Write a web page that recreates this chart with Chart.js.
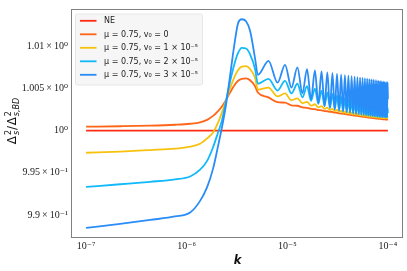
<!DOCTYPE html>
<html>
<head>
<meta charset="utf-8">
<script src="https://cdn.jsdelivr.net/npm/chart.js@4.4.0/dist/chart.umd.min.js"></script>
<style>
  html, body { margin: 0; padding: 0; background: #fff; }
  #wrap { width: 407px; height: 271px; }
</style>
</head>
<body>
<div id="wrap"><canvas id="chart" width="407" height="271"></canvas></div>
<script>
// k sample positions, in units of 1e-6 (rise, first peak, then
// alternating trough / peak of the oscillation)
const K_UNIT = 1e-6;
const K_GRID = [
  0.1, 0.218, 0.433, 0.767, 1.081, 1.359, 1.596, 1.829, 2.049, 2.248,
  2.464, 2.698, 2.958, 3.243, 3.53, 3.89, 4.27, 4.78, 5.1, 6.5,
  8.0, 9.5, 11.0, 12.6, 14.15, 15.7, 17.25, 18.8, 20.35, 21.9,
  23.45, 25.0, 26.55, 28.1, 29.65, 31.2, 32.75, 34.3, 35.85, 37.4,
  38.95, 40.5, 42.05, 43.6, 45.15, 46.7, 48.25, 49.8, 51.35, 52.9,
  54.45, 56.0, 57.55, 59.1, 60.65, 62.2, 63.75, 65.3, 66.85, 68.4,
  69.95, 71.5, 73.05, 74.6, 76.15, 77.7, 79.25, 80.8, 82.35, 83.9,
  85.45, 87.0, 88.55, 90.1, 91.65, 93.2, 94.75, 96.3, 97.85, 99.4,
  100
];

const NE_K = [0.1, 100];
const NE_VALUES = [1, 1];

// mu = 0.75, v0 = 0
const V0_0 = [
  1.00046, 1.00051, 1.00058, 1.00069, 1.00081, 1.00098, 1.00127, 1.00174, 1.00231, 1.00289,
  1.00364, 1.00451, 1.00532, 1.00590, 1.00613, 1.00619, 1.00596, 1.00526, 1.00451, 1.00393,
  1.00336, 1.00330, 1.00299, 1.00294, 1.00274, 1.00270, 1.00257, 1.00253, 1.00243, 1.00240,
  1.00231, 1.00229, 1.00222, 1.00220, 1.00213, 1.00211, 1.00205, 1.00202, 1.00198, 1.00196,
  1.00191, 1.00190, 1.00185, 1.00184, 1.00179, 1.00178, 1.00175, 1.00174, 1.00170, 1.00169,
  1.00165, 1.00164, 1.00162, 1.00161, 1.00159, 1.00157, 1.00155, 1.00154, 1.00152, 1.00150,
  1.00149, 1.00148, 1.00146, 1.00145, 1.00143, 1.00142, 1.00141, 1.00140, 1.00139, 1.00138,
  1.00137, 1.00135, 1.00134, 1.00133, 1.00133, 1.00132, 1.00131, 1.00130, 1.00130, 1.00128,
  1.00127
];

// mu = 0.75, v0 = 1e-5
const V0_1E5 = [
  0.99737, 0.99751, 0.99769, 0.99786, 0.99809, 0.99844, 0.99907, 0.99977, 1.00093, 1.00220,
  1.00359, 1.00498, 1.00625, 1.00717, 1.00758, 1.00764, 1.00729, 1.00625, 1.00486, 1.00509,
  1.00405, 1.00440, 1.00359, 1.00382, 1.00324, 1.00341, 1.00295, 1.00312, 1.00274, 1.00289,
  1.00257, 1.00272, 1.00243, 1.00257, 1.00231, 1.00245, 1.00221, 1.00235, 1.00212, 1.00226,
  1.00204, 1.00219, 1.00197, 1.00212, 1.00191, 1.00206, 1.00185, 1.00200, 1.00180, 1.00196,
  1.00176, 1.00191, 1.00172, 1.00187, 1.00169, 1.00184, 1.00165, 1.00180, 1.00162, 1.00178,
  1.00160, 1.00176, 1.00157, 1.00174, 1.00155, 1.00171, 1.00153, 1.00169, 1.00150, 1.00167,
  1.00149, 1.00165, 1.00148, 1.00164, 1.00147, 1.00163, 1.00146, 1.00162, 1.00145, 1.00161,
  1.00153
];

// mu = 0.75, v0 = 2e-5
const V0_2E5 = [
  0.99332, 0.99364, 0.99393, 0.99422, 0.99456, 0.99537, 0.99641, 0.99803, 0.99977, 1.00127,
  1.00359, 1.00579, 1.00775, 1.00920, 1.00980, 1.00972, 1.00902, 1.00729, 1.00555, 1.00613,
  1.00474, 1.00590, 1.00440, 1.00555, 1.00393, 1.00526, 1.00353, 1.00498, 1.00318, 1.00474,
  1.00292, 1.00451, 1.00272, 1.00434, 1.00255, 1.00417, 1.00241, 1.00401, 1.00229, 1.00388,
  1.00220, 1.00376, 1.00212, 1.00364, 1.00205, 1.00355, 1.00199, 1.00347, 1.00193, 1.00339,
  1.00189, 1.00332, 1.00184, 1.00325, 1.00180, 1.00319, 1.00177, 1.00314, 1.00174, 1.00308,
  1.00171, 1.00303, 1.00169, 1.00299, 1.00167, 1.00294, 1.00164, 1.00289, 1.00162, 1.00286,
  1.00161, 1.00282, 1.00160, 1.00279, 1.00159, 1.00275, 1.00157, 1.00272, 1.00156, 1.00268,
  1.00208
];

// mu = 0.75, v0 = 3e-5
const V0_3E5 = [
  0.98846, 0.98895, 0.98941, 0.98982, 0.99028, 0.99167, 0.99329, 0.99549, 0.99815, 1.00046,
  1.00312, 1.00648, 1.00995, 1.01273, 1.01319, 1.01296, 1.01180, 1.00856, 1.00659, 1.00825,
  1.00567, 1.00779, 1.00509, 1.00749, 1.00440, 1.00729, 1.00370, 1.00712, 1.00324, 1.00700,
  1.00289, 1.00688, 1.00266, 1.00679, 1.00249, 1.00671, 1.00237, 1.00664, 1.00228, 1.00657,
  1.00220, 1.00650, 1.00213, 1.00644, 1.00207, 1.00639, 1.00201, 1.00633, 1.00197, 1.00628,
  1.00192, 1.00624, 1.00189, 1.00619, 1.00185, 1.00614, 1.00182, 1.00610, 1.00178, 1.00605,
  1.00176, 1.00602, 1.00174, 1.00597, 1.00171, 1.00594, 1.00169, 1.00590, 1.00167, 1.00587,
  1.00164, 1.00583, 1.00163, 1.00581, 1.00162, 1.00577, 1.00161, 1.00575, 1.00160, 1.00573,
  1.00370
];

const SERIES_LABELS = [
  "NE",
  "\u03bc = 0.75, v\u2080 = 0",
  "\u03bc = 0.75, v\u2080 = 1 \u00d7 10\u207b\u2075",
  "\u03bc = 0.75, v\u2080 = 2 \u00d7 10\u207b\u2075",
  "\u03bc = 0.75, v\u2080 = 3 \u00d7 10\u207b\u2075",
];
const SERIES_COLORS = ["#ff2b14", "#ff6517", "#f7c20e", "#11b9fb", "#2a8cf7"];

const X_TICKS = [1e-7, 1e-6, 1e-5, 1e-4];
const X_TICK_LABELS = ["10\u207b\u2077", "10\u207b\u2076", "10\u207b\u2075", "10\u207b\u2074"];
const Y_TICKS = [0.99, 0.995, 1, 1.005, 1.01];
const Y_TICK_LABELS = [
  "9.9\u2009\u00d7\u200910\u207b\u00b9",
  "9.95\u2009\u00d7\u200910\u207b\u00b9",
  "10\u2070",
  "1.005\u2009\u00d7\u200910\u2070",
  "1.01\u2009\u00d7\u200910\u2070",
];

const TICK_FONT = { family: "'Liberation Serif', 'DejaVu Serif', serif", size: 10 };
const FRAME_COLOR = "#808080";

function toPoints(ks, vals) {
  return ks.map((k, i) => ({ x: k * K_UNIT, y: vals[i] }));
}

function nearestIndex(list, v, log) {
  let best = 0, bestD = Infinity;
  list.forEach((t, i) => {
    const d = log ? Math.abs(Math.log10(t) - Math.log10(v)) : Math.abs(t - v);
    if (d < bestD) { bestD = d; best = i; }
  });
  return best;
}

// frame, axis titles and the legend box (drawn by hand so it can sit inside the plot)
const decorPlugin = {
  id: "decor",
  afterDraw(chart) {
    const ctx = chart.ctx;
    const a = chart.chartArea;
    ctx.save();

    ctx.strokeStyle = FRAME_COLOR;
    ctx.lineWidth = 1;
    ctx.strokeRect(Math.round(a.left) + 0.5, Math.round(a.top) + 0.5,
      Math.round(a.right - a.left) - 1, Math.round(a.bottom - a.top) - 1);

    // x title
    ctx.fillStyle = "#111";
    ctx.font = "italic bold 11.5px 'DejaVu Sans'";
    ctx.textAlign = "center";
    ctx.textBaseline = "middle";
    ctx.fillText("k", (a.left + a.right) / 2 + 0.5, 261.5);

    // y title: Δ²_s / Δ²_{s,BD}
    ctx.translate(15.5, 121);
    ctx.rotate(-Math.PI / 2);
    ctx.textAlign = "left";
    ctx.textBaseline = "alphabetic";
    const big = "12px 'DejaVu Sans'";
    const sup = "8px 'DejaVu Sans'";
    const sub = "italic 8px 'DejaVu Sans'";
    const parts = [
      { t: "\u0394", f: big },
      { stack: [{ t: "2", f: sup, dy: -5 }, { t: "s", f: sub, dy: 3 }] },
      { t: "/", f: big },
      { t: "\u0394", f: big },
      { stack: [{ t: "2", f: sup, dy: -5 }, { t: "s,BD", f: sub, dy: 3 }] },
    ];
    const widthOf = (p) => {
      if (p.stack) return Math.max(...p.stack.map((q) => { ctx.font = q.f; return ctx.measureText(q.t).width; }));
      ctx.font = p.f; return ctx.measureText(p.t).width;
    };
    const total = parts.reduce((s, p) => s + widthOf(p) + 0.5, 0);
    let x = -total / 2;
    parts.forEach((p) => {
      const w = widthOf(p);
      if (p.stack) {
        p.stack.forEach((q) => { ctx.font = q.f; ctx.fillText(q.t, x + 0.5, q.dy); });
      } else {
        ctx.font = p.f; ctx.fillText(p.t, x, 0);
      }
      x += w + 0.5;
    });
    ctx.setTransform(1, 0, 0, 1, 0, 0);

    // legend
    const lx = a.left + 4, ly = a.top + 4.5;
    const rowH = 13.5;
    ctx.font = "8px 'DejaVu Sans'";
    const textW = Math.max(...SERIES_LABELS.map((s) => ctx.measureText(s).width));
    const lw = 29 + textW + 4, lh = rowH * SERIES_LABELS.length + 3.5;
    ctx.beginPath();
    ctx.roundRect(lx + 0.5, ly + 0.5, lw, lh, 2);
    ctx.fillStyle = "rgba(245,245,245,0.92)";
    ctx.fill();
    ctx.strokeStyle = "#e6e6e6";
    ctx.stroke();
    SERIES_LABELS.forEach((label, i) => {
      const yy = ly + 7.3 + i * rowH;
      ctx.strokeStyle = SERIES_COLORS[i];
      ctx.lineWidth = 1.8;
      ctx.beginPath();
      ctx.moveTo(lx + 5, yy);
      ctx.lineTo(lx + 21.5, yy);
      ctx.stroke();
      ctx.fillStyle = "#222";
      ctx.textAlign = "left";
      ctx.textBaseline = "middle";
      ctx.fillText(label, lx + 29, yy + 0.5);
    });
    ctx.restore();
  },
};

const seriesValues = [V0_0, V0_1E5, V0_2E5, V0_3E5];
const datasets = [
  {
    label: SERIES_LABELS[0],
    data: toPoints(NE_K, NE_VALUES),
    borderColor: SERIES_COLORS[0],
    order: 4,
  },
  ...seriesValues.map((vals, i) => ({
    label: SERIES_LABELS[i + 1],
    data: toPoints(K_GRID, vals),
    borderColor: SERIES_COLORS[i + 1],
    order: 3 - i,
  })),
].map((d) => ({
  ...d,
  borderWidth: 1.8,
  pointRadius: 0,
  fill: false,
  cubicInterpolationMode: "monotone",
}));

new Chart(document.getElementById("chart"), {
  type: "line",
  data: { datasets },
  options: {
    responsive: false,
    animation: false,
    events: [],
    layout: { padding: { left: 0, right: 4, top: 3.5, bottom: 0 } },
    plugins: { legend: { display: false }, tooltip: { enabled: false } },
    scales: {
      x: {
        type: "logarithmic",
        min: 7.08e-8,
        max: 1.413e-4,
        afterBuildTicks: (s) => { s.ticks = X_TICKS.map((v) => ({ value: v })); },
        afterFit: (s) => { s.height = 33.5; },
        ticks: {
          autoSkip: false,
          maxRotation: 0,
          padding: 3,
          color: "#222",
          font: TICK_FONT,
          callback: (v) => X_TICK_LABELS[nearestIndex(X_TICKS, v, true)],
        },
        grid: { display: false, drawTicks: false },
        border: { display: false },
      },
      y: {
        type: "linear",
        min: 0.98733,
        max: 1.014405,
        afterBuildTicks: (s) => { s.ticks = Y_TICKS.map((v) => ({ value: v })); },
        afterFit: (s) => { s.width = 71; },
        ticks: {
          padding: 3,
          color: "#222",
          font: TICK_FONT,
          callback: (v) => Y_TICK_LABELS[nearestIndex(Y_TICKS, v, false)],
        },
        grid: { display: false, drawTicks: false },
        border: { display: false },
      },
    },
  },
  plugins: [decorPlugin],
});
</script>
</body>
</html>
